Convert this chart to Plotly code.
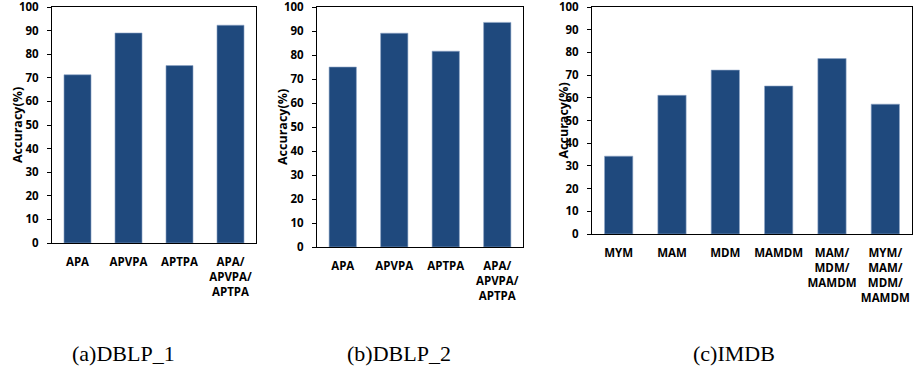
import plotly.graph_objects as go

# ---- data ----
cats_a = ["APA", "APVPA", "APTPA", "APA/<br>APVPA/<br>APTPA"]
vals_a = [71.3, 89.0, 75.2, 92.3]

cats_b = ["APA", "APVPA", "APTPA", "APA/<br>APVPA/<br>APTPA"]
vals_b = [75.0, 89.1, 81.6, 93.6]

cats_c = ["MYM", "MAM", "MDM", "MAMDM", "MAM/<br>MDM/<br>MAMDM", "MYM/<br>MAM/<br>MDM/<br>MAMDM"]
vals_c = [34.3, 61.1, 72.2, 65.2, 77.3, 57.2]

captions = ["(a)DBLP_1", "(b)DBLP_2", "(c)IMDB"]
y_title = "Accuracy(%)"
y_ticks = list(range(0, 101, 10))

W, H = 914, 374
BAR = "#1F497D"

fig = go.Figure()
fig.add_trace(go.Bar(x=cats_a, y=vals_a, marker_color=BAR, width=0.53, xaxis="x", yaxis="y"))
fig.add_trace(go.Bar(x=cats_b, y=vals_b, marker_color=BAR, width=0.53, xaxis="x2", yaxis="y2"))
fig.add_trace(go.Bar(x=cats_c, y=vals_c, marker_color=BAR, width=0.53, xaxis="x3", yaxis="y3"))
fig.update_traces(marker_line=dict(color="#8EA6C8", width=0.6))

def px_x(v):
    return v / W

def px_y(v):
    return 1 - v / H

tickfont = dict(family="Open Sans", size=11.5, color="black", weight="bold")

panels = [
    # (left, right, top, bottom) in pixels
    (52, 256, 7, 243),
    (317, 523, 7, 247),
    (592, 912, 7, 234),
]

for i, (l, r, t, b) in enumerate(panels):
    sfx = "" if i == 0 else str(i + 1)
    xa = dict(domain=[px_x(l), px_x(r)], anchor="y" + sfx, showline=True, linecolor="black",
              linewidth=1, mirror=True, ticks="", tickfont=tickfont, showgrid=False,
              fixedrange=True, automargin=False, ticklabelstandoff=8,
              ticklabeloverflow="allow")
    ya = dict(domain=[px_y(b), px_y(t)], anchor="x" + sfx, range=[0, 100.01], tickvals=y_ticks,
              showline=True, linecolor="black", linewidth=1, mirror=True, ticks="outside",
              ticklen=4, tickcolor="black", tickfont=tickfont, showgrid=False, zeroline=False,
              automargin=False, ticklabelstandoff=6, ticklabeloverflow="allow", fixedrange=True)
    fig.layout["xaxis" + sfx] = xa
    fig.layout["yaxis" + sfx] = ya

# y-axis titles as annotations
title_x = [17, 282, 563]
for (l, r, t, b), tx in zip(panels, title_x):
    fig.add_annotation(x=px_x(tx), y=px_y((t + b) / 2), xref="paper", yref="paper",
                       xanchor="center", yanchor="middle",
                       text=y_title, textangle=-90, showarrow=False,
                       font=dict(family="Open Sans", size=12.5, color="black", weight="bold"))

# captions
cap_x = [123, 399, 734]
for cx, txt in zip(cap_x, captions):
    fig.add_annotation(x=px_x(cx), y=px_y(353), xref="paper", yref="paper", text=txt,
                       xanchor="center", yanchor="middle",
                       showarrow=False, font=dict(family="Liberation Serif", size=22, color="black"))

fig.update_layout(width=W, height=H, margin=dict(l=0, r=0, t=0, b=0, autoexpand=False),
                  paper_bgcolor="white", plot_bgcolor="white", showlegend=False,
                  bargap=0.47)

fig.write_html("out.html", config={"displayModeBar": False},
               post_script="document.body.style.margin='0';")
